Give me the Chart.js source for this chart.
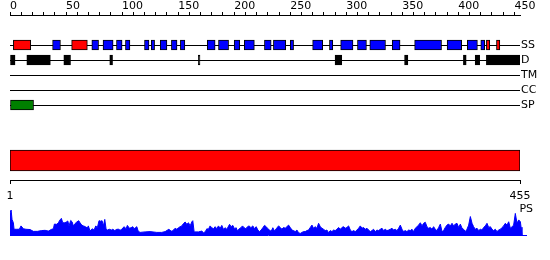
<!DOCTYPE html>
<html>
<head>
<meta charset="utf-8">
<script src="https://cdn.jsdelivr.net/npm/chart.js@4/dist/chart.umd.min.js"></script>
<style>
  html, body { margin: 0; padding: 0; background: #fff; }
  #wrap { position: relative; width: 550px; height: 260px; overflow: hidden; }
  canvas { position: absolute; left: 0; }
</style>
</head>
<body>
<div id="wrap">
  <canvas id="tracks" width="550" height="125" style="top:0"></canvas>
  <canvas id="seq" width="550" height="65" style="top:140px"></canvas>
  <canvas id="ps" width="550" height="40" style="top:200px"></canvas>
</div>
<script>
// sequence length and ruler
const seqLength = 455;
const rulerLabels = [0, 50, 100, 150, 200, 250, 300, 350, 400, 450];
const rulerStep = 10;
const seqTicks = [1, 455];

// track rows (blank entries are spacers)
const trackRows = ['', ' ', 'SS', 'D', 'TM', 'CC', 'SP', '  '];

// secondary structure: helix (red), strand (blue)
const helixSegments = [[3, 18.5], [55, 69], [425, 428], [434, 437]];
const strandSegments = [
  [38, 45], [73, 79], [83, 92], [95, 100], [103, 107], [120, 124], [126, 129],
  [134, 140], [144, 149], [152, 156], [176, 183], [186, 195], [200, 205], [209, 218],
  [227, 233], [235, 246], [250, 253], [270, 279], [285, 288], [295, 306], [310, 318],
  [321, 335], [341, 348], [361, 385], [390, 403], [408, 417], [420, 423.5]
];
// disorder (black)
const disorderSegments = [
  [0, 4.5], [15, 36], [48, 54], [89, 91.5], [168, 169.5], [290, 296],
  [352, 355], [404.5, 407], [415, 419], [425, 455]
];
// signal peptide (green)
const signalSegments = [[0, 21]];

// PS profile: [residue, score]
const psProfile = [
  [1, 0.85], [2, 0.96], [2.8, 0.6], [4, 0.47], [4.6, 0.22], [7, 0.22], [9.3, 0.22], [10.8, 0.35],
  [12.9, 0.24], [15.2, 0.22], [18.8, 0.21], [21.8, 0.14], [25.3, 0.14], [29.2, 0.17], [32.2, 0.18],
  [35.1, 0.15], [38.1, 0.22], [39.6, 0.24], [40.5, 0.42], [42.6, 0.41], [44, 0.47], [45.5, 0.58],
  [46.7, 0.64], [47.9, 0.47], [49.4, 0.47], [50.9, 0.49], [52.4, 0.54], [53.5, 0.35], [55, 0.56],
  [56.2, 0.51], [57.4, 0.35], [58.9, 0.44], [60.4, 0.5], [62.1, 0.55], [63.3, 0.47], [64.8, 0.38],
  [66.3, 0.35], [68, 0.32], [69.8, 0.27], [70.7, 0.35], [72.2, 0.15], [74, 0.24], [75.8, 0.19],
  [77.3, 0.35], [78.7, 0.28], [80.2, 0.55], [81.7, 0.53], [82.9, 0.55], [84.1, 0.35], [85.3, 0.6],
  [86.5, 0.22], [87.6, 0.19], [89.4, 0.22], [91.2, 0.19], [92.4, 0.22], [94.2, 0.17], [96, 0.22],
  [97.8, 0.22], [98.9, 0.18], [100.4, 0.22], [102.5, 0.32], [104.3, 0.24], [105.4, 0.37], [107.2, 0.26],
  [108.7, 0.28], [110.2, 0.32], [111.4, 0.24], [112.5, 0.28], [113.8, 0.32], [115, 0.15], [116.7, 0.1],
  [121.2, 0.12], [125.6, 0.13], [131.6, 0.1], [136, 0.1], [139, 0.13], [142.3, 0.22], [143.4, 0.18],
  [145, 0.14], [146.4, 0.19], [147.9, 0.26], [149.4, 0.22], [150.9, 0.28], [152.3, 0.32], [153.8, 0.35],
  [155.3, 0.44], [156.8, 0.5], [158.3, 0.41], [159.8, 0.47], [161.2, 0.35], [162.8, 0.51], [163.6, 0.55],
  [164.8, 0.12], [168.6, 0.12], [171.6, 0.15], [173.1, 0.09], [174.6, 0.12], [176.1, 0.24], [177.5, 0.22],
  [179, 0.35], [180.5, 0.28], [182, 0.24], [183.5, 0.32], [185, 0.24], [186.4, 0.35], [188, 0.26],
  [189.4, 0.37], [190.9, 0.22], [192.4, 0.28], [193.9, 0.22], [196.3, 0.41], [197.7, 0.32], [199.2, 0.37],
  [200.7, 0.24], [202.2, 0.28], [203.4, 0.15], [204.9, 0.24], [206.4, 0.28], [207.8, 0.35], [209.3, 0.28],
  [210.8, 0.24], [212.3, 0.32], [213.8, 0.35], [215.3, 0.28], [217, 0.35], [218.5, 0.24], [220, 0.32],
  [221.5, 0.19], [222.9, 0.13], [224.4, 0.19], [225.9, 0.28], [227.4, 0.37], [228.9, 0.32], [230.4, 0.24],
  [231.8, 0.19], [233.3, 0.14], [234.8, 0.28], [236.3, 0.15], [237.8, 0.24], [239.9, 0.35], [241.4, 0.29],
  [242.9, 0.22], [244.3, 0.29], [245.8, 0.26], [247.3, 0.32], [248.8, 0.38], [250.3, 0.29], [251.8, 0.19],
  [253.2, 0.17], [254.7, 0.13], [256.2, 0.19], [257.7, 0.09], [259.2, 0.06], [260.7, 0.1], [262.1, 0.13],
  [263.6, 0.13], [265.1, 0.17], [266.6, 0.19], [268.1, 0.29], [269.6, 0.38], [271, 0.26], [272.5, 0.32],
  [274, 0.26], [275.5, 0.45], [277, 0.32], [278.5, 0.26], [279.9, 0.22], [281.4, 0.17], [282.9, 0.19],
  [284.4, 0.09], [285.9, 0.17], [287.4, 0.13], [288.8, 0.19], [290.3, 0.17], [291.8, 0.22], [293.3, 0.29],
  [294.8, 0.22], [296.3, 0.29], [297.7, 0.32], [299.2, 0.26], [300.7, 0.29], [302.2, 0.35], [303.7, 0.19],
  [305.2, 0.13], [306.6, 0.17], [308.1, 0.13], [309.6, 0.19], [311.1, 0.26], [312.6, 0.35], [314.1, 0.26],
  [315.5, 0.29], [317, 0.22], [318.5, 0.26], [320, 0.19], [321.5, 0.13], [323, 0.17], [324.4, 0.22],
  [325.9, 0.13], [327.4, 0.19], [328.9, 0.17], [330.4, 0.22], [331.9, 0.26], [333.3, 0.17], [334.8, 0.22],
  [336.3, 0.17], [337.8, 0.19], [339.3, 0.22], [340.8, 0.26], [342.2, 0.19], [343.7, 0.22], [345.2, 0.17],
  [346.7, 0.26], [348.2, 0.38], [349.7, 0.22], [351.1, 0.13], [352.6, 0.17], [354.1, 0.13], [355.6, 0.19],
  [357.1, 0.17], [358.6, 0.22], [360, 0.13], [361.5, 0.26], [363, 0.32], [364.5, 0.38], [366, 0.47],
  [367.5, 0.35], [368.9, 0.45], [370.4, 0.49], [371.9, 0.32], [373.4, 0.26], [374.9, 0.29], [376.4, 0.22],
  [377.8, 0.32], [379.3, 0.22], [380.8, 0.17], [382.3, 0.29], [383.8, 0.42], [385.3, 0.13], [386.7, 0.17],
  [388.2, 0.29], [389.7, 0.38], [391.2, 0.42], [392.7, 0.35], [394.2, 0.45], [395.6, 0.35], [397.1, 0.42],
  [398.6, 0.45], [400.1, 0.29], [401.6, 0.42], [403.1, 0.26], [404.5, 0.22], [406, 0.13], [407.5, 0.22],
  [409, 0.38], [410.5, 0.71], [412, 0.45], [413.4, 0.32], [414.9, 0.22], [416.4, 0.26], [417.9, 0.17],
  [419.4, 0.22], [420.9, 0.19], [422.3, 0.29], [423.8, 0.35], [425.3, 0.45], [426.8, 0.29], [428.3, 0.32],
  [429.8, 0.22], [431.2, 0.17], [432.7, 0.22], [434.2, 0.13], [435.7, 0.19], [437.2, 0.22], [438.7, 0.29],
  [440.1, 0.35], [441.6, 0.45], [443.1, 0.38], [444.6, 0.51], [446.1, 0.26], [447.6, 0.32], [449, 0.38],
  [450.5, 0.83], [452, 0.45], [453.5, 0.58], [455, 0.51], [455.6, 0.3], [456.4, 0]
];

Chart.defaults.font.family = "'DejaVu Sans', sans-serif";
Chart.defaults.font.size = 11;
Chart.defaults.font.lineHeight = 1;
Chart.defaults.color = '#000';

const noPlugins = { legend: { display: false }, tooltip: { enabled: false } };
const segBars = (segs, row) => segs.map(s => ({ x: s, y: row }));

// --- feature tracks with top ruler ---
new Chart(document.getElementById('tracks'), {
    type: 'bar',
    data: {
        labels: trackRows,
        datasets: [
            { data: segBars(helixSegments, 'SS'), backgroundColor: '#ff0000' },
            { data: segBars(strandSegments, 'SS'), backgroundColor: '#0000ff' },
            { data: segBars(disorderSegments, 'D'), backgroundColor: '#000000' },
            { data: segBars(signalSegments, 'SP'), backgroundColor: '#008000' }
        ]
    },
    options: {
        indexAxis: 'y',
        responsive: false,
        animation: false,
        layout: { padding: { left: 10, right: 0, top: 0, bottom: 5 } },
        datasets: {
            bar: { grouped: false, barThickness: 10, borderWidth: 1, borderColor: '#000', borderSkipped: false }
        },
        plugins: noPlugins,
        scales: {
            x: {
                type: 'linear', position: 'top', min: 0, max: seqLength,
                afterFit: s => { s.height = 15; s.paddingLeft = 0; },
                ticks: {
                    stepSize: rulerStep, autoSkip: false, includeBounds: false, align: 'start',
                    maxRotation: 0, padding: 0,
                    callback: v => rulerLabels.includes(v) ? String(v) : ''
                },
                grid: { drawOnChartArea: false, drawTicks: true, tickLength: 3, color: '#000' },
                border: { color: '#000' }
            },
            y: {
                type: 'category', position: 'right', offset: false,
                afterFit: s => { s.width = 30; s.paddingTop = 0; s.paddingBottom = 0; },
                ticks: { autoSkip: false, padding: 1 },
                grid: {
                    offset: false, drawTicks: false,
                    color: c => (c.tick && String(c.tick.label).trim()) ? '#000' : 'rgba(0,0,0,0)'
                },
                border: { display: false }
            }
        }
    }
});

// --- sequence bar with bottom ruler ---
new Chart(document.getElementById('seq'), {
    type: 'bar',
    data: {
        labels: ['seq'],
        datasets: [{
            data: [{ x: [seqTicks[0], seqLength], y: 'seq' }],
            backgroundColor: '#ff0000', borderColor: '#000', borderWidth: 1,
            borderSkipped: false, barThickness: 21
        }]
    },
    options: {
        indexAxis: 'y',
        responsive: false,
        animation: false,
        layout: { padding: { left: 10, right: 30, top: 1, bottom: 0 } },
        plugins: noPlugins,
        scales: {
            x: {
                type: 'linear', position: 'bottom', min: seqTicks[0], max: seqLength,
                afterBuildTicks: s => { s.ticks = seqTicks.map(v => ({ value: v })); },
                afterFit: s => { s.height = 25; s.paddingLeft = 0; s.paddingRight = 0; },
                ticks: { align: 'center', padding: 7, autoSkip: false, maxRotation: 0 },
                grid: { drawOnChartArea: false, tickLength: 4, color: '#000' },
                border: { color: '#000' }
            },
            y: { display: false }
        }
    }
});

// --- PS profile ---
new Chart(document.getElementById('ps'), {
    type: 'line',
    data: {
        datasets: [{
            data: psProfile.map(p => ({ x: p[0], y: p[1] })),
            borderColor: '#0000ff', backgroundColor: '#0000ff', borderWidth: 1,
            fill: 'origin', pointRadius: 0, tension: 0
        }]
    },
    options: {
        responsive: false,
        animation: false,
        layout: { padding: { left: 10, right: 0, top: 9, bottom: 5 } },
        plugins: noPlugins,
        scales: {
            x: {
                type: 'linear', min: 1, max: 460,
                afterFit: s => { s.height = 0; },
                ticks: { display: false },
                grid: { display: false },
                border: { color: '#0000ff' }
            },
            y: {
                position: 'right', min: 0, max: 1,
                afterFit: s => { s.width = 24; s.paddingTop = 0; s.paddingBottom = 0; },
                afterBuildTicks: s => { s.ticks = [{ value: 1 }]; },
                ticks: { mirror: true, padding: 7, callback: () => 'PS' },
                grid: { display: false, drawTicks: false },
                border: { display: false }
            }
        }
    }
});
</script>
</body>
</html>
